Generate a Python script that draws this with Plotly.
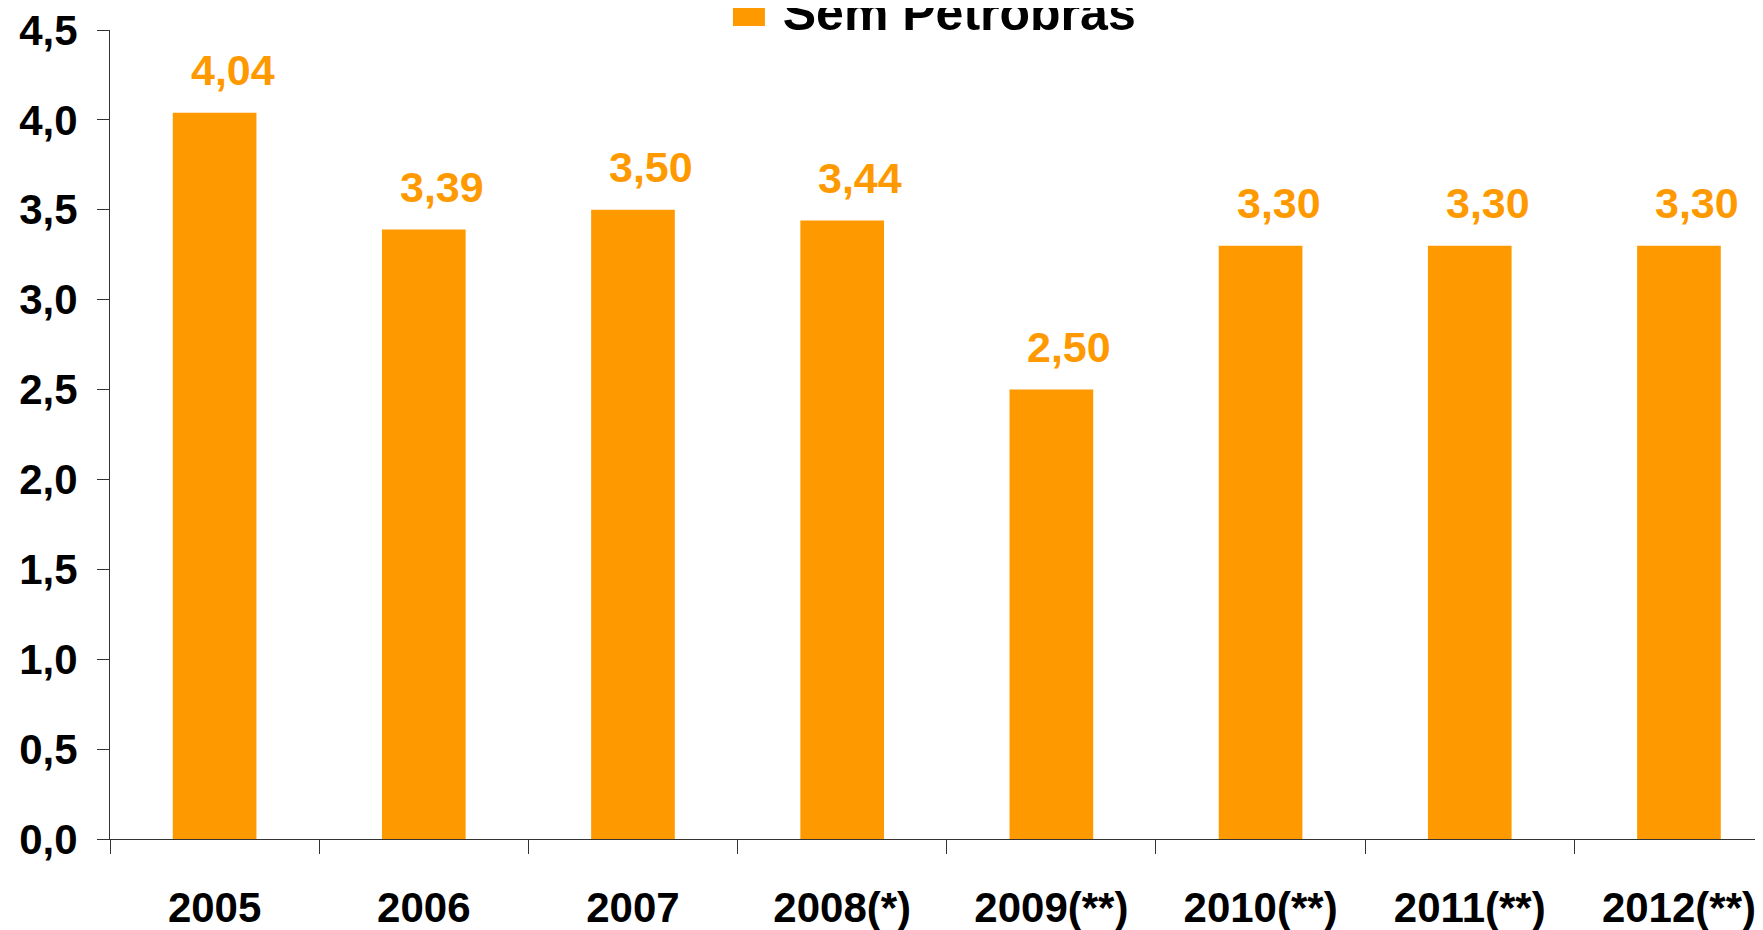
import plotly.graph_objects as go

YEARS = ["2005", "2006", "2007", "2008(*)", "2009(**)", "2010(**)", "2011(**)", "2012(**)"]
VALUES = [4.04, 3.39, 3.50, 3.44, 2.50, 3.30, 3.30, 3.30]
SERIES_NAME = "Sem Petrobras"

ORANGE = "#FF9900"
INK = "#000000"
AXIS = "#333333"
FONT_FAMILY = "Liberation Sans, Arial, Helvetica, sans-serif"

fig = go.Figure()
fig.add_trace(go.Bar(
    x=YEARS, y=VALUES, name=SERIES_NAME, marker_color=ORANGE,
    marker_line_width=0, showlegend=False,
    hovertemplate="%{x}: %{y:.2f}<extra></extra>",
))

# value labels above the bars (x given as category index so "2005" isn't read as a number)
annotations = [
    dict(x=i, y=v, xref="x", yref="y", text=f"{v:.2f}".replace(".", ","),
         showarrow=False, yanchor="bottom", xanchor="center", xshift=18, yshift=17,
         font=dict(size=43, color=ORANGE, family=FONT_FAMILY, weight="bold"))
    for i, v in enumerate(VALUES)
]
# legend entry (partly cut off at the top, like the original)
annotations.append(dict(
    x=0.5, y=1, xref="paper", yref="paper", yanchor="middle", xanchor="center",
    xshift=-8, yshift=23,
    text=f'<span style="color:{ORANGE};font-size:66px">■</span> {SERIES_NAME}', showarrow=False,
    font=dict(size=50, color=INK, family=FONT_FAMILY, weight="bold"),
))

fig.update_layout(
    width=1763, height=930,
    paper_bgcolor="white", plot_bgcolor="white",
    font=dict(family=FONT_FAMILY, color=INK),
    separators=", ",
    margin=dict(l=102, r=0, t=22, b=99, autoexpand=False),
    bargap=0.6,
    xaxis=dict(
        type="category", categoryorder="array", categoryarray=YEARS,
        range=[-0.5, 7.44], tickson="boundaries", ticks="outside", ticklen=14,
        tickcolor=AXIS, showline=True, linecolor=AXIS, linewidth=1, showgrid=False,
        tickfont=dict(size=42, color=INK, family=FONT_FAMILY, weight="bold"),
        ticklabelstandoff=32,
    ),
    yaxis=dict(
        range=[0, 4.5], dtick=0.5, tickformat=".1f", ticks="outside", ticklen=12,
        tickcolor=AXIS, showline=True, linecolor=AXIS, linewidth=1,
        showgrid=False, zeroline=False, ticklabeloverflow="allow",
        tickfont=dict(size=42, color=INK, family=FONT_FAMILY, weight="bold"),
        ticklabelstandoff=11,
    ),
    annotations=annotations,
    showlegend=False,
)

fig.write_html("out.html")
